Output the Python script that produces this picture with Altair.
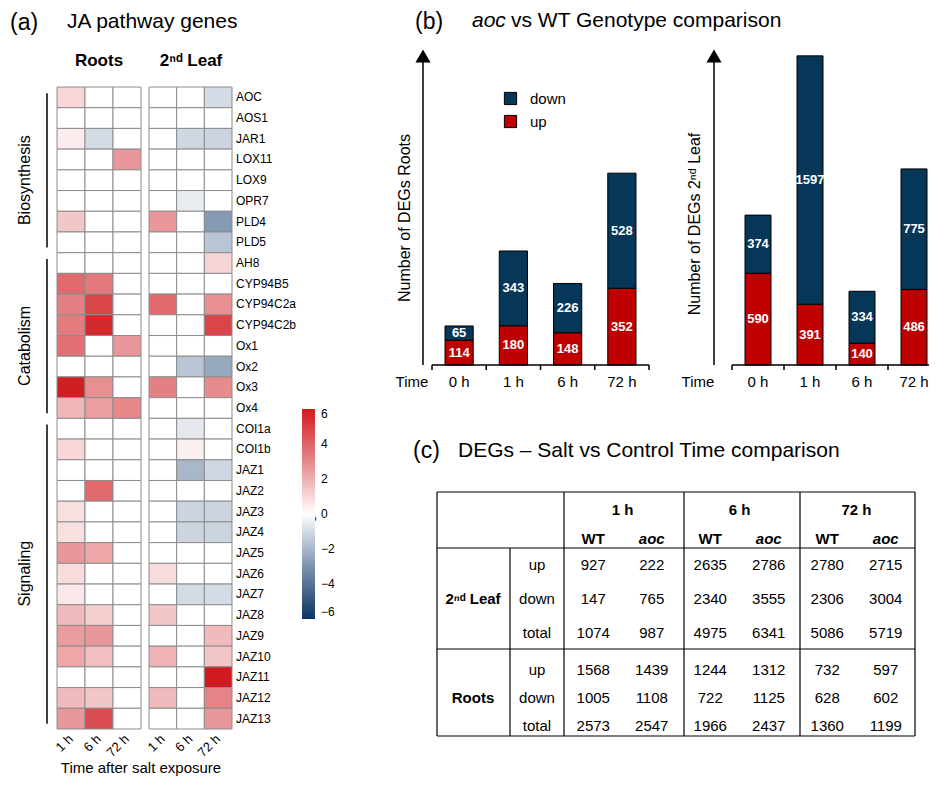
import altair as alt
import pandas as pd

FONT = "Liberation Sans"
RED = "#c00000"
NAVY = "#063658"

# ---------------- (a) heatmap data ----------------
genes = ["AOC", "AOS1", "JAR1", "LOX11", "LOX9", "OPR7", "PLD4", "PLD5",
         "AH8", "CYP94B5", "CYP94C2a", "CYP94C2b", "Ox1", "Ox2", "Ox3", "Ox4",
         "COI1a", "COI1b", "JAZ1", "JAZ2", "JAZ3", "JAZ4", "JAZ5", "JAZ6", "JAZ7",
         "JAZ8", "JAZ9", "JAZ10", "JAZ11", "JAZ12", "JAZ13"]
heat_times = ["1 h", "6 h", "72 h"]
roots_1h = [1.0, 0, 0.5, 0, 0, 0, 1.4, 0,
            0, 3.8, 3.2, 3.3, 3.6, 0, 5.9, 1.8,
            0, 1.0, 0, 0, 0.8, 0.8, 2.6, 0.9, 0.6, 1.7, 2.5, 2.2, 0, 1.7, 2.6]
roots_6h = [0, 0, -1.0, 0, 0, 0, 0, 0,
            0, 3.4, 4.8, 5.6, 0, 0, 2.8, 2.4,
            0, 0, 0, 3.8, 0, 0, 2.2, 0, 0, 1.2, 2.6, 1.6, 0, 1.4, 4.6]
roots_72h = [0, 0, 0, 2.6, 0, 0, 0, 0,
             0, 0, 0, 0, 2.6, 0, 0, 3.0,
             0, 0, 0, 0, 0, 0, 0, 0, 0, 0, 0, 0, 0, 0, 0]
leaf_1h = [0, 0, 0, 0, 0, 0, 2.6, 0,
           0, 0, 3.8, 0, 0, 0, 3.2, 0,
           0, 0, 0, 0, 0, 0, 0, 0.9, 0, 1.4, 0, 1.9, 0, 1.7, 0]
leaf_6h = [0, 0, -1.1, 0, 0, -0.5, 0, 0,
           0, 0, 0, 0, 0, -1.6, 0, 0,
           -0.6, 0.4, -2.0, 0, -1.2, -1.2, 0, 0, -1.0, 0, 0, 0, 0, 0, 0]
leaf_72h = [-1.0, 0, -1.2, 0, 0, 0, -2.8, -1.6,
            1.1, 0, 2.8, 4.8, 0, -2.4, 2.9, 0,
            0, 0, -1.1, 0, -1.2, -1.2, 0, 0, -1.0, 0, 1.7, 1.4, 6.0, 3.1, 2.6]
groups = ["Biosynthesis", "Catabolism", "Signaling"]
group_first = ["AOC", "AH8", "COI1a"]
group_last = ["PLD5", "Ox4", "JAZ13"]

# ---------------- (b) bar data ----------------
bar_times = ["0 h", "1 h", "6 h", "72 h"]
roots_up = [114, 180, 148, 352]
roots_down = [65, 343, 226, 528]
leaf_up = [590, 391, 140, 486]
leaf_down = [374, 1597, 334, 775]

# ---------------- (c) table data ----------------
tbl_times = ["1 h", "6 h", "72 h"]
tbl_cols = ["1 h WT", "1 h aoc", "6 h WT", "6 h aoc", "72 h WT", "72 h aoc"]
tbl_rows = ["up", "down", "total"]
t_leaf_up = [927, 222, 2635, 2786, 2780, 2715]
t_leaf_down = [147, 765, 2340, 3555, 2306, 3004]
t_leaf_total = [1074, 987, 4975, 6341, 5086, 5719]
t_roots_up = [1568, 1439, 1244, 1312, 732, 597]
t_roots_down = [1005, 1108, 722, 1125, 628, 602]
t_roots_total = [2573, 2547, 1966, 2437, 1360, 1199]

O = 8  # page margin -> chart coords


def P(v):
    return v - O


EMPTY = alt.Data(values=[{}])


def text_at(txt, x, y, size, weight="normal", style="normal", angle=0,
            align="left", baseline="middle", color="black"):
    return alt.Chart(EMPTY).mark_text(
        text=txt, font=FONT, fontSize=size, fontWeight=weight, fontStyle=style,
        angle=angle, align=align, baseline=baseline, color=color
    ).encode(x=alt.value(P(x)), y=alt.value(P(y)))


def hline(x1, x2, y, w=1.2, color="black"):
    return alt.Chart(EMPTY).mark_rule(color=color, strokeWidth=w).encode(
        x=alt.value(P(x1)), x2=alt.value(P(x2)), y=alt.value(P(y)))


def vline(x, y1, y2, w=1.2, color="black"):
    return alt.Chart(EMPTY).mark_rule(color=color, strokeWidth=w).encode(
        x=alt.value(P(x)), y=alt.value(P(y1)), y2=alt.value(P(y2)))


layers = []

# ================= (a) heatmap =================
ygenes = alt.Scale(domain=genes, range=[P(87), P(729)], paddingInner=0, paddingOuter=0)
cscale = alt.Scale(domain=[-6, 6],
                   range=["#0b3362", "#7c93af", "#ffffff", "#e6878a", "#cf1b1f"],
                   interpolate="rgb")

heat_df = pd.DataFrame({
    "gene": genes * 6,
    "panel": ["roots"] * 93 + ["leaf"] * 93,
    "time": [t for t in heat_times for _ in genes] * 2,
    "lfc": roots_1h + roots_6h + roots_72h + leaf_1h + leaf_6h + leaf_72h,
})
xroots = alt.Scale(domain=heat_times, range=[P(57), P(141)], paddingInner=0, paddingOuter=0)
xleaf = alt.Scale(domain=heat_times, range=[P(149), P(232)], paddingInner=0, paddingOuter=0)

layers.append(alt.Chart(heat_df).transform_filter(alt.datum.panel == "roots").mark_rect(
    stroke="#8c8c8c", strokeWidth=1, opacity=1).encode(
    x=alt.X("time:N", scale=xroots, axis=None),
    y=alt.Y("gene:N", scale=ygenes, axis=None),
    fill=alt.Fill("lfc:Q", scale=cscale, legend=alt.Legend(
        orient="none", legendX=P(302), legendY=P(409), direction="vertical",
        gradientLength=210, gradientThickness=13, title=None,
        values=[-6, -4, -2, 0, 2, 4, 6], labelFontSize=12, labelFont=FONT,
        labelOverlap=False, gradientStrokeWidth=0, padding=0, labelOffset=6)),
))
layers.append(alt.Chart(heat_df).transform_filter(alt.datum.panel == "leaf").mark_rect(
    stroke="#8c8c8c", strokeWidth=1, opacity=1).encode(
    x=alt.X("time:N", scale=xleaf, axis=None),
    y=alt.Y("gene:N", scale=ygenes, axis=None),
    fill=alt.Fill("lfc:Q", scale=cscale, legend=None),
))

# gene labels
layers.append(alt.Chart(pd.DataFrame({"gene": genes})).mark_text(
    align="left", baseline="middle", font=FONT, fontSize=12, color="black"
).encode(
    x=alt.value(P(236)),
    y=alt.Y("gene:N", scale=ygenes, axis=None),
    text="gene:N",
))

# group brackets
grp_df = pd.DataFrame({"group": groups, "first": group_first, "last": group_last})
layers.append(alt.Chart(grp_df).mark_rule(color="black", strokeWidth=1.5).encode(
    x=alt.value(P(47)),
    y=alt.Y("first:N", scale=ygenes, axis=None, bandPosition=0.3),
    y2=alt.Y2("last:N", bandPosition=0.75),
))
for name, anchor, bp in [("Biosynthesis", "LOX9", 0.0), ("Catabolism", "Ox1", 0.0),
                         ("Signaling", "JAZ6", 0.5)]:
    layers.append(alt.Chart(pd.DataFrame({"group": [name], "anchor": [anchor]})).mark_text(
        angle=270, align="center", baseline="middle", font=FONT, fontSize=16, color="black"
    ).encode(
        x=alt.value(P(25)),
        y=alt.Y("anchor:N", scale=ygenes, axis=None, bandPosition=bp),
        text="group:N",
    ))

# column labels (rotated)
for sc in (xroots, xleaf):
    layers.append(alt.Chart(pd.DataFrame({"time": heat_times})).mark_text(
        angle=315, align="right", baseline="middle", font=FONT, fontSize=13, color="black"
    ).encode(
        x=alt.X("time:N", scale=sc, axis=None, bandPosition=0.7),
        y=alt.value(P(737)),
        text="time:N",
    ))

layers += [
    text_at("(a)", 10, 23, 23),
    text_at("JA pathway genes", 67, 22, 21),
    text_at("Roots", 99, 61, 17, weight="bold", align="center"),
    text_at("2ⁿᵈ Leaf", 191, 61, 17, weight="bold", align="center"),
    text_at("Time after salt exposure", 141, 768, 15, align="center"),
    text_at("log₂FC", 309, 513, 12, angle=270, align="center"),
]

# ================= (b) bar charts =================
def bar_panel(up, down, x0, x1, y_per_unit, width_frac, legend):
    rows = []
    for t, u, d in zip(bar_times, up, down):
        rows.append({"time": t, "type": "up", "start": 0, "end": u, "mid": u / 2, "value": u})
        rows.append({"time": t, "type": "down", "start": u, "end": u + d,
                     "mid": u + d / 2, "value": d})
    df = pd.DataFrame(rows)
    xs = alt.Scale(domain=bar_times, range=[P(x0), P(x1)], paddingInner=0, paddingOuter=0)
    base_px = P(365)
    ys = alt.Scale(domain=[0, 1000], range=[base_px, base_px - 1000 * y_per_unit],
                   nice=False, zero=True)
    out = []
    out.append(alt.Chart(df).mark_bar(
        stroke="black", strokeWidth=1, width=alt.RelativeBandSize(width_frac)
    ).encode(
        x=alt.X("time:N", scale=xs, axis=None),
        y=alt.Y("start:Q", scale=ys, axis=None),
        y2="end:Q",
        color=alt.Color("type:N", scale=alt.Scale(domain=["down", "up"], range=[NAVY, RED]),
                        legend=legend),
    ))
    out.append(alt.Chart(df).mark_text(
        color="white", fontWeight="bold", fontSize=13, font=FONT, baseline="middle"
    ).encode(
        x=alt.X("time:N", scale=xs, axis=None),
        y=alt.Y("mid:Q", scale=ys, axis=None),
        text="value:N",
    ))
    tdf = pd.DataFrame({"time": bar_times})
    out.append(alt.Chart(tdf).mark_text(font=FONT, fontSize=15, baseline="middle",
                                        color="black").encode(
        x=alt.X("time:N", scale=xs, axis=None),
        y=alt.value(P(382)),
        text="time:N",
    ))
    out.append(alt.Chart(tdf).mark_rule(color="black", strokeWidth=1.5).encode(
        x=alt.X("time:N", scale=xs, axis=None, bandPosition=0),
        y=alt.value(base_px), y2=alt.value(base_px + 5),
    ))
    return out


bar_legend = alt.Legend(orient="none", legendX=P(503), legendY=P(91), title=None,
                        symbolType="square", symbolSize=150, symbolStrokeColor="black",
                        symbolStrokeWidth=1, labelFontSize=15, labelFont=FONT,
                        labelOffset=12, rowPadding=6, padding=0)
layers += bar_panel(roots_up, roots_down, 432, 649, 0.218, 0.52, bar_legend)
layers += bar_panel(leaf_up, leaf_down, 732, 940, 0.1555, 0.5, None)

layers.append(vline(649, 365, 370, w=1.5))
for ax_x, h0, h1, tx in [(423, 432, 649, 412), (714, 732, 937, 698)]:
    layers.append(hline(h0, h1, 365, w=1.5))
    layers.append(vline(ax_x, 365, 55, w=1.5))
    layers.append(alt.Chart(EMPTY).mark_point(
        shape="triangle-up", filled=True, color="black", size=230, opacity=1
    ).encode(x=alt.value(P(ax_x)), y=alt.value(P(56))))
    layers.append(text_at("Time", tx, 382, 15, align="center"))

layers += [
    text_at("Number of DEGs Roots", 405, 218, 16, angle=270, align="center"),
    text_at("Number of DEGs 2ⁿᵈ Leaf", 695, 224, 16, angle=270, align="center"),
    text_at("(b)", 415, 22, 23),
    text_at("aoc", 472, 21, 21, style="italic"),
    text_at("vs WT Genotype comparison", 511, 21, 21),
]

# ================= (c) table =================
layers += [
    text_at("(c)", 413, 451, 23),
    text_at("DEGs – Salt vs Control Time comparison", 458, 451, 21),
]
for y in (492, 548, 649, 736):
    layers.append(hline(437, 915, y))
for x in (437, 564, 684, 800, 915):
    layers.append(vline(x, 492, 736))
layers.append(vline(510, 548, 736))

xtime = alt.Scale(domain=tbl_times, range=[P(564), P(915)], paddingInner=0, paddingOuter=0)
xcol = alt.Scale(domain=tbl_cols, range=[P(564), P(915)], paddingInner=0, paddingOuter=0)
layers.append(alt.Chart(pd.DataFrame({"t": tbl_times})).mark_text(
    font=FONT, fontSize=15, fontWeight="bold", color="black").encode(
    x=alt.X("t:N", scale=xtime, axis=None), y=alt.value(P(510)), text="t:N"))
col_df = pd.DataFrame({"col": tbl_cols, "geno": [c.split(" ")[-1] for c in tbl_cols]})
layers.append(alt.Chart(col_df).transform_filter(alt.datum.geno == "WT").mark_text(
    font=FONT, fontSize=15, fontWeight="bold", color="black").encode(
    x=alt.X("col:N", scale=xcol, axis=None), y=alt.value(P(539)), text="geno:N"))
layers.append(alt.Chart(col_df).transform_filter(alt.datum.geno == "aoc").mark_text(
    font=FONT, fontSize=15, fontWeight="bold", fontStyle="italic", color="black").encode(
    x=alt.X("col:N", scale=xcol, axis=None), y=alt.value(P(539)), text="geno:N"))

for block, vals, yr, label in [
    ("leaf", [t_leaf_up, t_leaf_down, t_leaf_total], [P(548), P(650)], "2ⁿᵈ Leaf"),
    ("roots", [t_roots_up, t_roots_down, t_roots_total], [P(656), P(740)], "Roots"),
]:
    ysc = alt.Scale(domain=tbl_rows, range=yr, paddingInner=0, paddingOuter=0)
    recs = []
    for r, rv in zip(tbl_rows, vals):
        for c, v in zip(tbl_cols, rv):
            recs.append({"row": r, "col": c, "num": v})
    vdf = pd.DataFrame(recs)
    layers.append(alt.Chart(vdf).mark_text(font=FONT, fontSize=15, color="black").encode(
        x=alt.X("col:N", scale=xcol, axis=None),
        y=alt.Y("row:N", scale=ysc, axis=None),
        text="num:N"))
    layers.append(alt.Chart(pd.DataFrame({"row": tbl_rows})).mark_text(
        font=FONT, fontSize=15, color="black").encode(
        x=alt.value(P(537)),
        y=alt.Y("row:N", scale=ysc, axis=None),
        text="row:N"))
    layers.append(alt.Chart(pd.DataFrame({"row": ["down"], "lab": [label]})).mark_text(
        font=FONT, fontSize=15, fontWeight="bold", color="black").encode(
        x=alt.value(P(473)),
        y=alt.Y("row:N", scale=ysc, axis=None),
        text="lab:N"))

chart = alt.layer(*layers).resolve_scale(
    x="independent", y="independent", color="independent", fill="independent"
).properties(
    width=921, height=769, padding=0, autosize=alt.AutoSizeParams(type="none")
).configure_view(stroke=None)

chart.save("out.html", embed_options={"renderer": "svg", "actions": False})
